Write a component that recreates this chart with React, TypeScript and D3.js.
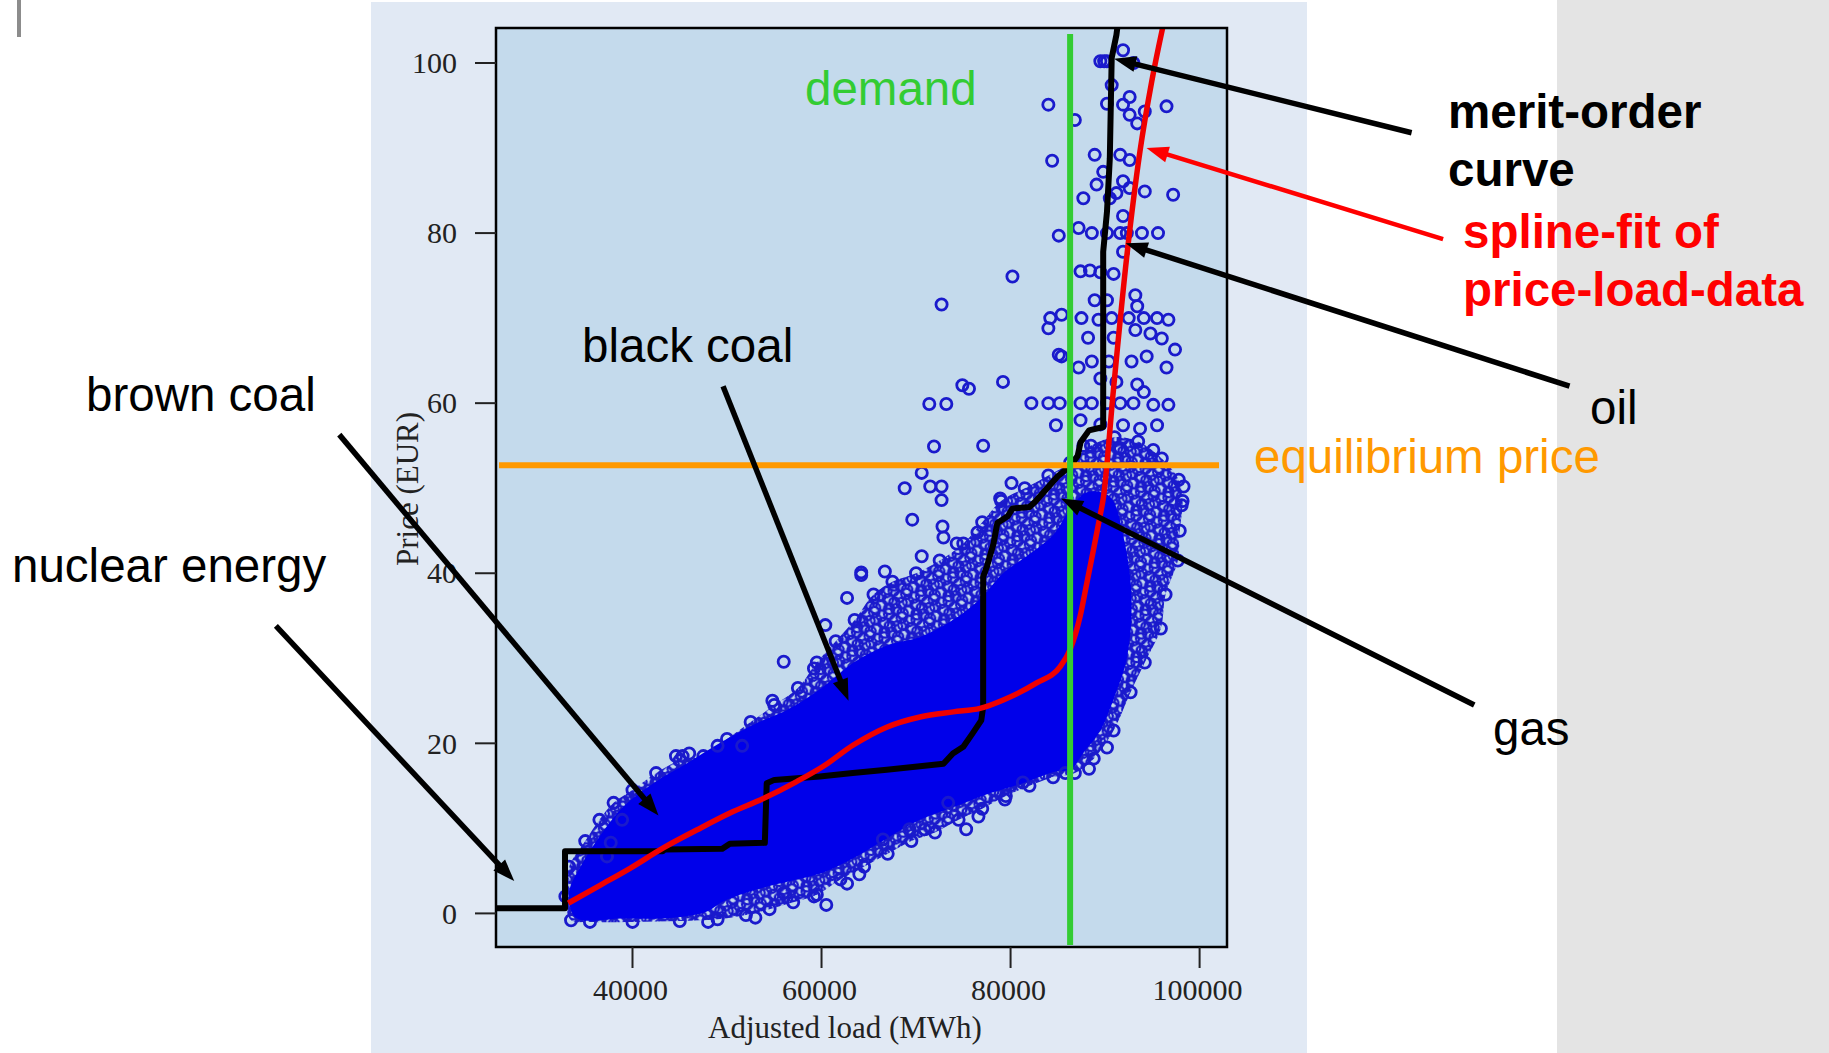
import { useMemo } from 'react';
import * as d3 from 'd3';

const W = 1829;
const H = 1053;
const PLOT = { left: 496, right: 1227, top: 28, bottom: 947 };

// axes
const xTicks = [40000, 60000, 80000, 100000];
const yTicks = [0, 20, 40, 60, 80, 100];

// reference lines
const demandLoad = 86300;
const demandTop = 103.4;
const equilibriumPrice = 52.7;

// merit-order step curve [load MWh, price EUR]
const meritOrder: [number, number][] = [
  [25000, 0.6], [32860, 0.6], [32860, 7.3], [43200, 7.3], [43400, 7.5], [49500, 7.6],
  [50300, 8.2], [54000, 8.3], [54200, 15.3], [55000, 15.7], [59800, 16.1], [63300, 16.5],
  [66900, 16.9], [70400, 17.3], [72900, 17.6], [73900, 18.8], [75000, 19.6], [76000, 21.2],
  [76900, 22.7], [77100, 24.3], [77100, 39.6], [77500, 40.8], [78200, 43.5], [78600, 45.9],
  [79700, 46.7], [80200, 47.6], [82000, 47.8], [82600, 48.4], [83400, 49.4], [85000, 51.4],
  [86300, 52.6], [87100, 53.8], [87400, 55.4], [88300, 56.8], [89800, 57.2], [89800, 77.8],
  [90200, 82.5], [90500, 88.8], [90700, 100.6], [91200, 103.3], [91500, 106],
];

// spline fit of price-load data
const splineFit: [number, number][] = [
  [33200, 1.2], [36560, 3.3], [39740, 5.3], [43260, 7.7], [46790, 9.8], [50320, 11.8],
  [53840, 13.5], [57370, 15.5], [60190, 17.3], [63360, 19.8], [66890, 21.9], [70420, 23.1],
  [73940, 23.7], [76770, 24.1], [79230, 25.1], [82760, 27.1], [85230, 29.0], [86290, 31.0],
  [87350, 34.9], [88060, 38.8], [88760, 42.7], [89460, 46.7], [89810, 48.8], [90870, 61.4],
  [92280, 77.1], [93690, 89.6], [94930, 97.8], [96160, 104.5],
];

// solid core of the hourly price-load cloud (outline)
const cloudCore: [number, number][] = [
  [33300, 2.5], [34500, 5.5], [36500, 9], [39000, 12.5], [42500, 15.5], [46000, 17.8],
  [49500, 20.2], [53000, 22.3], [56500, 24], [60000, 26.5], [63400, 29.5], [66900, 31.5],
  [70400, 32.5], [73900, 34.5], [76800, 37], [79200, 40], [81700, 42], [84500, 44.5],
  [86000, 47], [88000, 49.5], [90500, 49], [92000, 44], [92800, 37], [92300, 30],
  [91000, 25.5], [89500, 21.5], [87800, 19], [86400, 17], [84500, 16.6], [81000, 15.2],
  [77500, 14], [74000, 12.5], [70400, 11], [66900, 8.8], [63400, 6.5], [60200, 4.8],
  [56700, 3.8], [53100, 2.8], [49600, 1.4], [47800, 0.2], [44300, -0.5], [39000, -0.6],
  [34000, -0.5],
];

// looser ring of overlapping points around the core (outline)
const cloudHalo: [number, number][] = [
  [32900, 2], [33300, 5.5], [35000, 8.5], [36500, 11], [38000, 13], [40000, 14.5],
  [42500, 16.5], [45000, 18], [47500, 18.5], [50000, 20.5], [52500, 22.5], [55000, 24.5],
  [57500, 26.5], [59500, 29.5], [61500, 32], [63500, 34.5], [65500, 37.5], [67500, 39],
  [70000, 40], [72500, 41.5], [75000, 43.5], [77000, 46], [79000, 48.5], [81500, 50],
  [84000, 51.5], [86300, 53], [88500, 55], [91000, 56], [93500, 55.5], [96000, 53.5],
  [97800, 51], [98200, 48.5], [97900, 45], [97700, 41.5], [96400, 37.5], [95900, 33.5],
  [94200, 29.5], [92700, 26], [90900, 21.5], [88800, 18.2], [86800, 16.5], [84500, 16],
  [82000, 15], [79500, 13.8], [77000, 12.3], [74500, 11], [72000, 9.5], [69500, 8.5],
  [67000, 7], [64500, 5.5], [62000, 4], [59500, 2.2], [57000, 1.3], [54500, 0.5],
  [52000, -0.2], [49000, -0.7], [45000, -0.9], [40000, -1.0], [35500, -1.0], [33500, -0.8],
];

// isolated hours outside the cloud
const outliers: [number, number][] = [
  [89500, 100.2], [89900, 100.2], [90200, 100.2], [91900, 101.5], [93000, 100.0], [90700, 97.4],
  [84000, 95.1], [90200, 95.2], [92600, 96.0], [91900, 95.1], [96500, 94.9], [92600, 93.9],
  [94200, 94.3], [93400, 92.9], [86800, 93.3], [84400, 88.5], [88900, 89.2], [91600, 89.2],
  [92600, 88.6], [89800, 87.2], [89100, 85.7], [91900, 86.1], [92600, 85.3], [91200, 84.7],
  [94200, 84.9], [97200, 84.5], [87700, 84.1], [90500, 84.1], [91900, 82.0], [80200, 74.9],
  [85100, 79.7], [87200, 80.6], [88600, 80.0], [90200, 80.0], [91600, 80.0], [92300, 80.0],
  [93900, 80.0], [95600, 80.0], [91900, 77.8], [87400, 75.5], [88400, 75.6], [89500, 75.4],
  [90900, 75.2], [88900, 72.1], [90200, 72.1], [93200, 72.7], [93400, 71.4], [84200, 70.0],
  [85400, 70.4], [84000, 68.8], [87500, 70.0], [89300, 69.8], [90700, 70.0], [92500, 70.0],
  [94100, 70.0], [95500, 70.0], [96700, 69.8], [88200, 67.7], [90900, 67.7], [93200, 68.6],
  [94800, 68.2], [96000, 67.6], [97400, 66.3], [85100, 65.7], [85400, 65.5], [87200, 64.2],
  [88600, 64.9], [90400, 64.9], [92800, 64.9], [94400, 65.5], [96500, 64.2], [79200, 62.5],
  [75600, 61.7], [74900, 62.1], [72700, 71.6], [89500, 62.9], [91200, 62.5], [93400, 62.2],
  [94100, 61.3], [71400, 59.9], [73200, 59.9], [82200, 60.0], [84000, 60.0], [85200, 60.0],
  [87400, 60.0], [88600, 60.0], [90200, 60.0], [91600, 60.0], [93000, 60.0], [95100, 59.8],
  [96700, 59.8], [84800, 57.4], [87400, 58.0], [89500, 57.5], [91900, 57.4], [93700, 57.0],
  [95500, 57.4], [77100, 55.0], [71900, 54.9], [87700, 55.0], [91600, 54.7], [95100, 54.5],
  [70600, 51.8], [68800, 50.0], [71500, 50.2], [72700, 50.2], [72700, 48.6], [69600, 46.3],
  [72800, 45.5], [72900, 44.2], [78900, 48.8], [80100, 50.6], [76500, 44.8], [74300, 43.5],
  [70600, 42.0], [64200, 40.1], [66700, 40.2], [62700, 37.1], [64200, 39.8], [60400, 33.9],
  [59200, 28.8], [56000, 29.6], [54800, 25.0], [44600, 18.5], [45300, 18.5], [46000, 18.8],
  [49000, 19.7], [51600, 19.7], [37700, 8.3], [37300, 6.7], [38900, 11.0], [98300, 50.2],
  [98100, 48.0], [62700, 3.5], [59200, 2.0], [56000, 2.4], [75300, 9.9], [76600, 11.4],
  [66500, 8.7], [69300, 9.9], [70900, 9.9], [73400, 13.0], [79400, 13.4], [81300, 15.4],
  [85800, 16.5], [88300, 17.0], [90200, 19.5], [64000, 4.6], [60500, 1.0], [53000, -0.5],
  [48000, -1.0],
];

// annotation arrows, in data units (tails run outside the frame)
const arrows = [
  { tail: [2269, 33.8], tip: [27490, 3.8], color: '#000', width: 5.5 },
  { tail: [8977, 56.3], tip: [42750, 11.5], color: '#000', width: 5.5 },
  { tail: [49580, 62.0], tip: [62855, 25.0], color: '#000', width: 5.5 },
  { tail: [122430, 91.8], tip: [90950, 100.5], color: '#000', width: 5.5 },
  { tail: [125760, 79.3], tip: [94385, 90.0], color: '#ff0000', width: 4.5 },
  { tail: [139140, 62.0], tip: [92175, 78.8], color: '#000', width: 5.5 },
  { tail: [129060, 24.5], tip: [85340, 48.8], color: '#000', width: 5.5 },
];

const labels = [
  { text: 'nuclear energy', x: 12, y: 582, color: '#000', bold: false },
  { text: 'brown coal', x: 86, y: 411, color: '#000', bold: false },
  { text: 'black coal', x: 582, y: 362, color: '#000', bold: false },
  { text: 'demand', x: 805, y: 105, color: '#33cc33', bold: false },
  { text: 'merit-order', x: 1448, y: 128, color: '#000', bold: true },
  { text: 'curve', x: 1448, y: 186, color: '#000', bold: true },
  { text: 'spline-fit of', x: 1463, y: 248, color: '#ff0000', bold: true },
  { text: 'price-load-data', x: 1463, y: 306, color: '#ff0000', bold: true },
  { text: 'oil', x: 1590, y: 424, color: '#000', bold: false },
  { text: 'equilibrium price', x: 1254, y: 473, color: '#ff9900', bold: false },
  { text: 'gas', x: 1493, y: 745, color: '#000', bold: false },
];

const SERIF = '"Liberation Serif", "DejaVu Serif", serif';
const SANS = '"Liberation Sans", Arial, sans-serif';
const DOT = '#1a1acc';

// irregular ring positions inside one pattern tile
const RINGS = [[3, 4], [10, 1], [17, 6], [23, 2], [6, 11], [13, 13], [20, 12], [1, 18], [9, 20], [16, 19], [23, 22], [26, 9]];

function arrowHead(x1: number, y1: number, x2: number, y2: number, len = 22, half = 8) {
  const a = Math.atan2(y2 - y1, x2 - x1);
  const bx = x2 - len * Math.cos(a);
  const by = y2 - len * Math.sin(a);
  const px = -Math.sin(a) * half;
  const py = Math.cos(a) * half;
  return {
    head: `M${x2},${y2}L${bx + px},${by + py}L${bx - px},${by - py}Z`,
    sx: x2 - (len - 4) * Math.cos(a),
    sy: y2 - (len - 4) * Math.sin(a),
  };
}

export default function App() {
  const x = useMemo(() => d3.scaleLinear().domain([40000, 100000]).range([632.5, 1199.6]), []);
  const y = useMemo(() => d3.scaleLinear().domain([0, 100]).range([913.4, 63]), []);

  const line = d3.line<[number, number]>().x(d => x(d[0])).y(d => y(d[1]));
  const smooth = d3.line<[number, number]>().x(d => x(d[0])).y(d => y(d[1])).curve(d3.curveMonotoneX);
  const blob = d3.line<[number, number]>().x(d => x(d[0])).y(d => y(d[1])).curve(d3.curveCatmullRomClosed);

  return (
    <svg width={W} height={H} style={{ position: 'fixed', left: 0, top: 0, background: '#fff' }}>
      <defs>
        <clipPath id="plot-clip">
          <rect x={PLOT.left} y={PLOT.top} width={PLOT.right - PLOT.left} height={PLOT.bottom - PLOT.top} />
        </clipPath>
        <pattern id="rings" width="28" height="24" patternUnits="userSpaceOnUse" patternTransform="rotate(11)">
          {RINGS.flatMap(([cx, cy], i) =>
            [[0, 0], [28, 0], [-28, 0], [0, 24], [0, -24]].map(([ox, oy], j) => (
              <circle key={i + '-' + j} cx={cx + ox} cy={cy + oy} r={5.2} fill="none" stroke={DOT} strokeWidth={2.4} />
            ))
          )}
        </pattern>
      </defs>

      {/* slide backgrounds */}
      <rect x={17} y={0} width={4} height={37} fill="#8c8c8c" />
      <rect x={371} y={2} width={936} height={H - 2} fill="#e1e9f4" />
      <rect x={1557} y={0} width={W - 1557} height={H} fill="#e4e4e4" />

      {/* plot area */}
      <rect x={PLOT.left} y={PLOT.top} width={PLOT.right - PLOT.left} height={PLOT.bottom - PLOT.top} fill="#c4daec" />

      <g clipPath="url(#plot-clip)">
        <path d={blob(cloudHalo) ?? ''} fill="url(#rings)" />
        {cloudHalo.map((d, i) => (
          <circle key={'h' + i} cx={x(d[0])} cy={y(d[1])} r={5.6} fill="none" stroke={DOT} strokeWidth={2.8} />
        ))}
        <path d={blob(cloudCore) ?? ''} fill="#0000ea" />
        {outliers.map((d, i) => (
          <circle key={'o' + i} cx={x(d[0])} cy={y(d[1])} r={5.6} fill="none" stroke={DOT} strokeWidth={2.8} />
        ))}
        <path d={line(meritOrder) ?? ''} fill="none" stroke="#000" strokeWidth={6} strokeLinejoin="round" />
        <path d={smooth(splineFit) ?? ''} fill="none" stroke="#f00000" strokeWidth={5.5} />
        <line x1={PLOT.left + 3} x2={PLOT.right - 8} y1={y(equilibriumPrice)} y2={y(equilibriumPrice)} stroke="#ff9900" strokeWidth={6} />
        <line x1={x(demandLoad)} x2={x(demandLoad)} y1={y(demandTop)} y2={PLOT.bottom - 2} stroke="#33cc33" strokeWidth={6} />
      </g>

      <rect x={PLOT.left} y={PLOT.top} width={PLOT.right - PLOT.left} height={PLOT.bottom - PLOT.top} fill="none" stroke="#000" strokeWidth={2.5} />

      {/* y axis */}
      <g fontFamily={SERIF} fontSize={30} fill="#222">
        {yTicks.map(t => (
          <g key={t}>
            <line x1={PLOT.left - 21} x2={PLOT.left} y1={y(t)} y2={y(t)} stroke="#222" strokeWidth={2} />
            <text x={457} y={y(t)} dy="0.34em" textAnchor="end">{t}</text>
          </g>
        ))}
        <text transform={`translate(418,489) rotate(-90)`} textAnchor="middle" fontSize={31}>Price (EUR)</text>
      </g>

      {/* x axis */}
      <g fontFamily={SERIF} fontSize={30} fill="#222">
        {xTicks.map(t => (
          <g key={t}>
            <line x1={x(t)} x2={x(t)} y1={PLOT.bottom} y2={PLOT.bottom + 21} stroke="#222" strokeWidth={2} />
            <text x={x(t) - 2} y={1000} textAnchor="middle">{d3.format('d')(t)}</text>
          </g>
        ))}
        <text x={845} y={1038} textAnchor="middle" fontSize={31}>Adjusted load (MWh)</text>
      </g>

      {/* annotation arrows */}
      {arrows.map((a, i) => {
        const x1 = x(a.tail[0]);
        const y1 = y(a.tail[1]);
        const x2 = x(a.tip[0]);
        const y2 = y(a.tip[1]);
        const h = arrowHead(x1, y1, x2, y2);
        return (
          <g key={i}>
            <line x1={x1} y1={y1} x2={h.sx} y2={h.sy} stroke={a.color} strokeWidth={a.width} />
            <path d={h.head} fill={a.color} />
          </g>
        );
      })}

      {labels.map(l => (
        <text key={l.text} x={l.x} y={l.y} fill={l.color} fontFamily={SANS} fontSize={47.5} fontWeight={l.bold ? 700 : 400}>
          {l.text}
        </text>
      ))}
    </svg>
  );
}
